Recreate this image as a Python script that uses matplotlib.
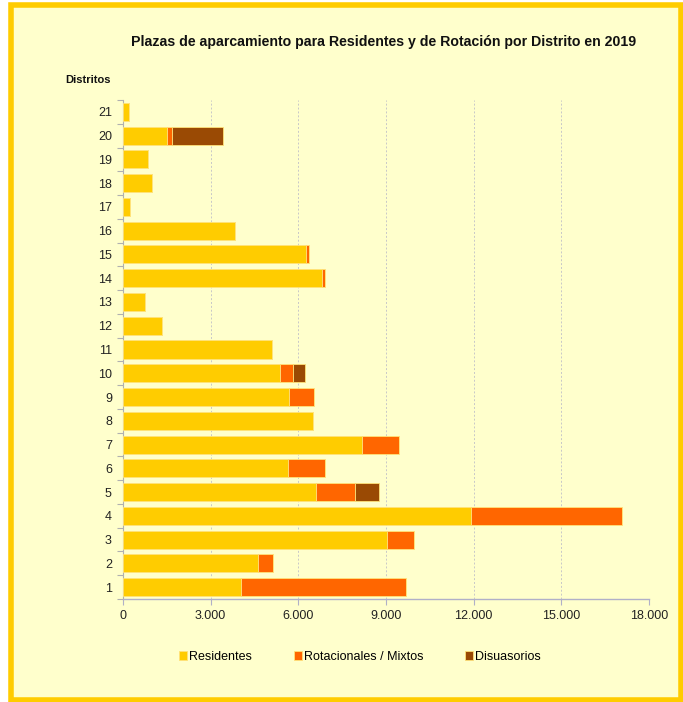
import matplotlib.pyplot as plt
from matplotlib.patches import Rectangle
from matplotlib.ticker import FuncFormatter, MultipleLocator

plt.rcParams['font.family'] = ['Liberation Sans', 'DejaVu Sans']

distritos = [str(i) for i in range(1, 22)]
residentes = [4028, 4620, 9035, 11899, 6605, 5647, 8169, 6516, 5671, 5374,
              5089, 1348, 767, 6800, 6263, 3833, 229, 982, 845, 1520, 219]
rotacionales = [5671, 503, 924, 5178, 1325, 1256, 1277, 0, 866, 434,
                0, 0, 0, 103, 92, 0, 0, 0, 0, 170, 0]
disuasorios = [0, 0, 0, 0, 821, 0, 0, 0, 0, 434,
               0, 0, 0, 0, 0, 0, 0, 0, 0, 1732, 0]

series = [("Residentes", residentes, "#FFCC00"),
          ("Rotacionales / Mixtos", rotacionales, "#FF6600"),
          ("Disuasorios", disuasorios, "#9A4A04")]

W, H = 683, 702
fig = plt.figure(figsize=(W / 100, H / 100), dpi=100)
fig.patch.set_facecolor("white")
fig.patches.append(Rectangle((10.5 / W, 2 / H), (W - 13) / W, (H - 7) / H,
                             transform=fig.transFigure, facecolor="#FFFFCC",
                             edgecolor="#FFCC00", linewidth=4, zorder=-5))

ax = fig.add_axes([123 / W, 1 - 599 / H, (649 - 123) / W, (599 - 100) / H])
ax.set_facecolor("none")

pos = list(range(len(distritos)))
left = [0] * len(distritos)
for name, vals, col in series:
    ax.barh(pos, vals, left=left, height=0.76, color=col, label=name,
            edgecolor="#FFE27A", linewidth=0.6, zorder=3)
    left = [a + b for a, b in zip(left, vals)]

ax.set_xlim(0, 18000)
ax.set_ylim(-0.5, len(distritos) - 0.5)
ax.xaxis.set_major_locator(MultipleLocator(3000))
ax.xaxis.set_major_formatter(FuncFormatter(lambda v, p: f"{int(v):,}".replace(",", ".")))
ax.grid(axis="x", color="#C8C8C8", linestyle=(0, (2, 2)), linewidth=0.7, zorder=0)

ax.set_yticks(pos)
ax.set_yticklabels(distritos)
ax.set_yticks([p - 0.5 for p in pos] + [len(pos) - 0.5], minor=True)
ax.tick_params(axis="y", which="major", length=0, pad=8, labelsize=9, labelcolor="#222222")
ax.tick_params(axis="y", which="minor", length=4, color="#B0B0B0", width=0.8)
ax.tick_params(axis="x", length=4, color="#B0B0C8", width=0.8, labelsize=9,
               labelcolor="#222222", pad=4)

for s in ["top", "right"]:
    ax.spines[s].set_visible(False)
ax.spines["left"].set_color("#B0B0B0")
ax.spines["bottom"].set_color("#B0B0C8")
ax.spines["left"].set_linewidth(0.8)
ax.spines["bottom"].set_linewidth(1.0)

fig.text(384 / W, 1 - 42 / H, "Plazas de aparcamiento para Residentes y de Rotación por Distrito en 2019",
         ha="center", va="center", fontsize=10.2, fontweight="bold", color="#111111")
fig.text(65 / W, 1 - 80 / H, "Distritos", ha="left", va="center",
         fontsize=8, fontweight="bold", color="#111111")

fig.legend(loc="center", bbox_to_anchor=(360 / W, 1 - 657 / H), ncol=3, frameon=False,
           fontsize=9, handlelength=0.65, handleheight=0.65, handletextpad=0.2,
           columnspacing=3.3)

fig.savefig("out.png", dpi=100)
